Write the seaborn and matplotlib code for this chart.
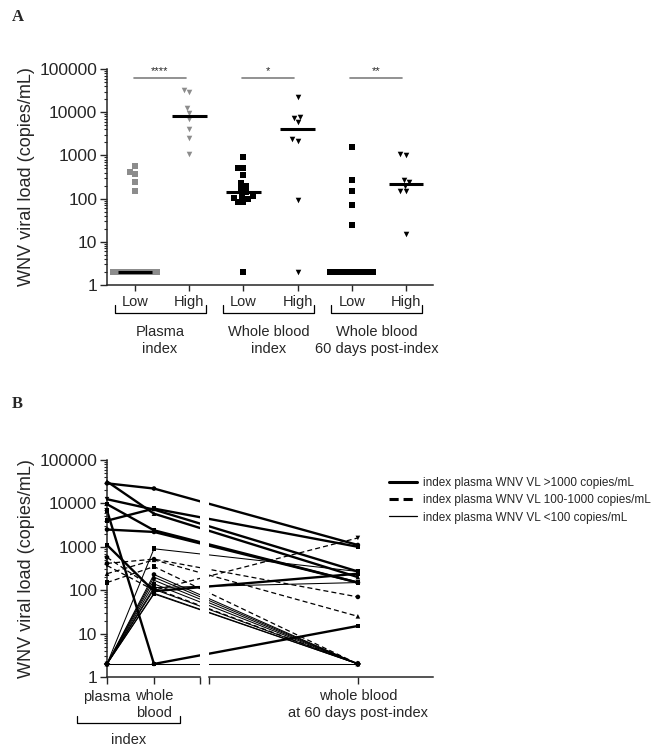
import numpy as np
import pandas as pd
import matplotlib
matplotlib.use('Agg')
import matplotlib.pyplot as plt
import matplotlib.transforms as mtransforms
from matplotlib.lines import Line2D
from matplotlib.ticker import LogLocator, NullFormatter
import seaborn as sns

# ---- panel B: one entry per donor (copies/mL, 2 = below detection limit)
# group: hi = index plasma >1000, mid = 100-1000, lo = <100
b_group  = ['hi'] * 8 + ['mid'] * 5 + ['lo'] * 10
b_plasma = [29000, 4000, 12500, 32000, 9600, 2500, 1100, 6900,
            570, 415, 370, 240, 150,
            2, 2, 2, 2, 2, 2, 2, 2, 2, 2]
b_wb     = [22000, 7600, 7200, 5800, 2400, 2200, 95, 2,
            110, 520, 100, 500, 350,
            900, 230, 200, 170, 140, 115, 105, 85, 82, 2]
b_wb60   = [1100, 1000, 270, 200, 150, 150, 240, 15,
            2, 70, 1600, 25, 2,
            270, 2, 2, 2, 2, 150, 2, 2, 2, 2]
b_marker = ['o', 's', 'v', '^', 's', 'o', 's', 's',
            'o', 'o', 'v', '^', 's',
            's', 'o', '^', 'v', 's', 'o', 'D', '^', 's', 'o']

timepoints = ['plasma', 'whole\nblood', 'whole blood\nat 60 days post-index']
legend_labels = ['index plasma WNV VL >1000 copies/mL',
                 'index plasma WNV VL 100-1000 copies/mL',
                 'index plasma WNV VL <100 copies/mL']

# ---- panel A groups (Low = index plasma <1000, High = >1000)
a_order = ['Plasma Low', 'Plasma High', 'WB Low', 'WB High', 'WB60 Low', 'WB60 High']
a_ticklabels = ['Low', 'High', 'Low', 'High', 'Low', 'High']
a_groups = ['Plasma\nindex', 'Whole blood\nindex', 'Whole blood\n60 days post-index']
a_stars = ['****', '*', '**']

sns.set_style('ticks')
plt.rcParams['font.family'] = ['Liberation Sans', 'DejaVu Sans']
plt.rcParams['axes.linewidth'] = 1.1

donors = pd.DataFrame({'donor': [f'd{i}' for i in range(len(b_group))],
                       'grp': b_group, 'plasma': b_plasma, 'wb': b_wb, 'wb60': b_wb60})
high = donors['grp'] == 'hi'
a_values = {
    'Plasma Low': donors.loc[~high, 'plasma'], 'Plasma High': donors.loc[high, 'plasma'],
    'WB Low': donors.loc[~high, 'wb'], 'WB High': donors.loc[high, 'wb'],
    'WB60 Low': donors.loc[~high, 'wb60'], 'WB60 High': donors.loc[high, 'wb60'],
}
dfa = pd.concat([pd.DataFrame({'grp': k, 'vl': v.values}) for k, v in a_values.items()])

W, H = 654, 750
fig = plt.figure(figsize=(W / 100, H / 100), dpi=100)


def box(l, t, r, b):
    return [l / W, 1 - b / H, (r - l) / W, (b - t) / H]


def log_axis(ax):
    ax.set_yscale('log')
    ax.set_ylim(1, 100000)
    ax.yaxis.set_minor_locator(LogLocator(base=10, subs=np.arange(2, 10), numticks=20))
    ax.yaxis.set_minor_formatter(NullFormatter())
    ax.set_yticks([1, 10, 100, 1000, 10000, 100000])
    ax.set_yticklabels(['1', '10', '100', '1000', '10000', '100000'], fontsize=12.5)
    ax.tick_params(axis='y', which='major', length=5, width=1, pad=2)
    ax.tick_params(axis='y', which='minor', length=2.5, width=0.8)
    ax.set_ylabel('WNV viral load (copies/mL)', fontsize=13, labelpad=3)


# ================= panel A =================
axA = fig.add_axes(box(107, 69, 433, 285))
axA.set_yscale('log')
styles = {'Plasma Low': ('#8c8c8c', 's'), 'Plasma High': ('#8c8c8c', 'v'),
          'WB Low': ('black', 's'), 'WB High': ('black', 'v'),
          'WB60 Low': ('black', 's'), 'WB60 High': ('black', 'v')}
for g in a_order:
    col, mk = styles[g]
    sns.swarmplot(data=dfa[dfa['grp'] == g], x='grp', y='vl', order=a_order,
                  color=col, marker=mk, size=4.0, linewidth=0, ax=axA, warn_thresh=1)
for i, g in enumerate(a_order):
    axA.hlines(np.median(a_values[g]), i - 0.32, i + 0.32, color='black', lw=2.2, zorder=5)
log_axis(axA)
axA.set_xlim(-0.52, 5.5)
axA.set_xlabel('')
axA.set_xticks(range(len(a_order)))
axA.set_xticklabels(a_ticklabels, fontsize=10.5)
axA.tick_params(axis='x', length=4, width=1, pad=3)
sns.despine(ax=axA)

trA = mtransforms.blended_transform_factory(axA.transData, axA.transAxes)
for k, (lab, st) in enumerate(zip(a_groups, a_stars)):
    i = 2 * k
    axA.plot([i - 0.03, i + 0.93], [62000, 62000], color='#7f7f7f', lw=1.2)
    axA.text(i + 0.45, 68000, st, ha='center', va='bottom', fontsize=8)
    axA.plot([i - 0.38, i - 0.38, i + 1.3, i + 1.3], [-0.093, -0.13, -0.13, -0.093],
             transform=trA, color='black', lw=0.9, clip_on=False)
    axA.text(i + 0.46, -0.185, lab, transform=trA, ha='center', va='top',
             fontsize=10.5, linespacing=1.3)

fig.text(12 / W, 1 - 17 / H, 'A', fontsize=12, fontweight='bold',
         family='Liberation Serif', va='center')

# ================= panel B =================
x_pos = [0, 1, 5.34]
dfb = donors.melt(id_vars=['donor', 'grp'], value_vars=['plasma', 'wb', 'wb60'],
                  var_name='time', value_name='vl')
dfb['t'] = dfb['time'].map(dict(zip(['plasma', 'wb', 'wb60'], x_pos)))

ax1 = fig.add_axes(box(107, 460, 200, 677))
ax2 = fig.add_axes(box(209, 460, 433, 677))
for ax in (ax1, ax2):
    ax.set_yscale('log')
    ax.patch.set_visible(False)
    sns.lineplot(data=dfb, x='t', y='vl', units='donor', estimator=None,
                 style='grp', size='grp',
                 sizes={'hi': 1.7, 'mid': 0.9, 'lo': 0.75},
                 dashes={'hi': '', 'mid': (4, 2.5), 'lo': ''},
                 color='black', legend=False, ax=ax)
log_axis(ax1)
ax2.set_yscale('log')
ax2.set_ylim(1, 100000)
ax1.set_xlim(0, 1.98)
ax2.set_xlim(2.17, 6.94)

sns.scatterplot(data=dfb[dfb['t'] < 2], x='t', y='vl', style='donor', markers=b_marker,
                color='black', s=11, linewidth=0, legend=False, ax=ax1,
                clip_on=False, zorder=4)
sns.scatterplot(data=dfb[dfb['t'] > 2], x='t', y='vl', style='donor', markers=b_marker,
                color='black', s=11, linewidth=0, legend=False, ax=ax2,
                clip_on=False, zorder=4)

ax1.set_xticks([0, 1, 1.98])
ax1.set_xticklabels(timepoints[:2] + [''], fontsize=10.5, multialignment='center')
ax2.set_xticks([2.17, 5.34])
ax2.set_xticklabels(['', timepoints[2]], fontsize=10.5, multialignment='center')
for ax in (ax1, ax2):
    ax.set_xlabel('')
    ax.tick_params(axis='x', length=5, width=1, pad=4)
ax1.set_ylabel('WNV viral load (copies/mL)', fontsize=13, labelpad=3)
sns.despine(ax=ax1)
sns.despine(ax=ax2, left=True)
ax2.set_ylabel('')
ax2.tick_params(axis='y', which='both', left=False, labelleft=False)

trB = mtransforms.blended_transform_factory(ax1.transData, ax1.transAxes)
ax1.plot([-0.64, -0.64, 1.56, 1.56], [-0.18, -0.21, -0.21, -0.18],
         transform=trB, color='black', lw=0.9, clip_on=False)
ax1.text(0.45, -0.26, 'index', transform=trB, ha='center', va='top', fontsize=10.5)

handles = [Line2D([], [], color='black', lw=2.2),
           Line2D([], [], color='black', lw=2.2, ls=(0, (3, 1.6))),
           Line2D([], [], color='black', lw=0.9)]
fig.legend(handles, legend_labels, loc='upper left', bbox_to_anchor=(389 / W, 1 - 477 / H),
           frameon=False, fontsize=8.5, handlelength=2.4, handletextpad=0.5,
           labelspacing=0.45, borderpad=0, borderaxespad=0)

fig.text(12 / W, 1 - 404 / H, 'B', fontsize=12, fontweight='bold',
         family='Liberation Serif', va='center')

fig.savefig('out.png', dpi=100)
